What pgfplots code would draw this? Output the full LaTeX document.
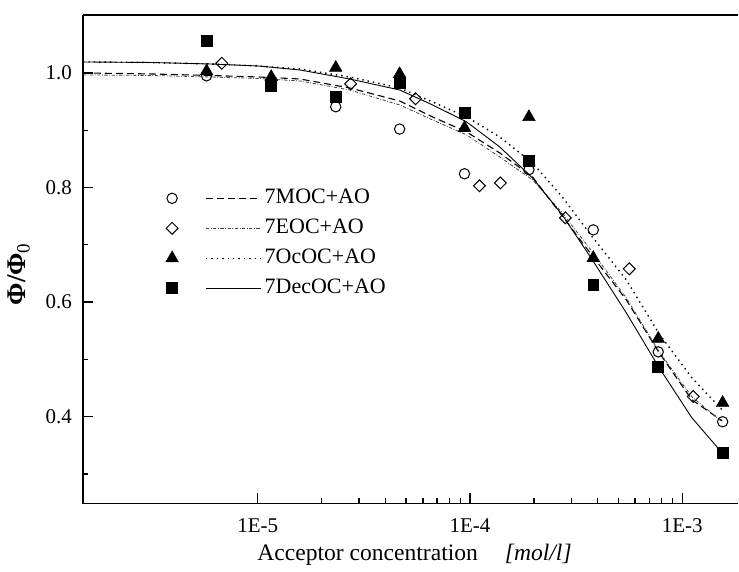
\documentclass[border=0pt]{standalone}
\usepackage{fontspec}
\setmainfont{Liberation Serif}
\usepackage{pgfplots}
\pgfplotsset{compat=1.18}

% measured data points
\newcommand{\dMOC}{(5.74e-6,0.995)(2.33e-5,0.941)(4.66e-5,0.902)(9.42e-5,0.824)(1.895e-4,0.831)(3.81e-4,0.726)(7.71e-4,0.513)(1.55e-3,0.391)}
\newcommand{\dEOC}{(6.77e-6,1.017)(2.74e-5,0.981)(5.54e-5,0.955)(1.108e-4,0.803)(1.391e-4,0.808)(2.815e-4,0.747)(5.63e-4,0.658)(1.127e-3,0.435)}
\newcommand{\dOcOC}{(5.74e-6,1.003)(1.157e-5,0.993)(2.33e-5,1.009)(4.66e-5,0.998)(9.42e-5,0.904)(1.895e-4,0.923)(3.81e-4,0.677)(7.71e-4,0.536)(1.55e-3,0.424)}
\newcommand{\dDecOC}{(5.74e-6,1.056)(1.157e-5,0.977)(2.33e-5,0.958)(4.66e-5,0.983)(9.42e-5,0.930)(1.895e-4,0.846)(3.81e-4,0.630)(7.71e-4,0.487)(1.55e-3,0.337)}

\tikzset{
  mMOC/.style={mark=o,mark size=2.6bp,mark options={solid,line width=0.5bp,fill=white}},
  mEOC/.style={mark=square,mark size=2.1bp,mark options={solid,rotate=45,line width=0.5bp,fill=white}},
  mOcOC/.style={mark=triangle*,mark size=3.6bp,mark options={solid,line width=0.3bp}},
  mDecOC/.style={mark=square*,mark size=2.75bp,mark options={solid,line width=0.3bp}},
  cMOC/.style={black,line width=0.55bp,dash pattern=on 3.5bp off 2bp},
  cEOC/.style={black!75,line width=0.4bp,dash pattern=on 1.6bp off 0.8bp on 0.4bp off 0.8bp},
  cOcOC/.style={black,line width=0.7bp,dash pattern=on 0.7bp off 2bp},
  cDecOC/.style={black,line width=0.45bp,solid},
}
\newcommand{\legimg}[2]{%
  \draw[black,#1] plot coordinates {(0bp,0bp)};%
  \draw[#2] (17bp,0bp) -- (44.5bp,0bp);%
}

\begin{document}
\begin{tikzpicture}[font=\fontsize{10.5bp}{12.6bp}\selectfont]
\begin{axis}[
  name=ax,
  scale only axis,
  width=328bp, height=244.5bp,
  xmode=log,
  xmin=1.5e-6, xmax=1.837e-3,
  ymin=0.2482, ymax=1.1012,
  axis x line*=box, axis y line*=left,
  axis line style={line width=0.7bp},
  every tick/.style={black,line width=0.7bp},
  xtick pos=left, ytick pos=left,
  tick align=inside,
  major tick length=5.3bp, minor tick length=2.8bp,
  xtick={1e-5,1e-4,1e-3}, xticklabels={1E-5,1E-4,1E-3},
  ytick={0.4,0.6,0.8,1.0}, minor ytick={0.3,0.5,0.7,0.9},
  yticklabel style={/pgf/number format/fixed,/pgf/number format/precision=1,/pgf/number format/fixed zerofill,xshift=-2bp},
  /pgf/number format/assume math mode=true,
  xticklabel style={yshift=-4bp},
  xlabel={Acceptor concentration\hspace{13.5bp}\textit{[mol/l]}},
  xlabel style={at={(axis description cs:0.506,-0.1047)},anchor=center,font=\fontsize{11.8bp}{14bp}\selectfont},
  ylabel={\bfseries Φ/Φ\textsubscript{\normalfont 0}},
  ylabel style={at={(axis description cs:-0.098,0.47)},anchor=center,font=\fontsize{13.5bp}{16bp}\selectfont},
  clip=true,
  legend style={draw=none,fill=none,inner sep=0pt,at={(axis description cs:0.126,0.646)},anchor=north west,
    row sep=5bp, font=\fontsize{11bp}{13bp}\selectfont,
    nodes={inner sep=0pt,text height=7.5bp,text depth=2.5bp},
    /tikz/every odd column/.append style={column sep=1.5bp}},
  legend cell align=left,
]
% markers
\addplot[only marks,mMOC,forget plot] coordinates {\dMOC};
\addplot[only marks,mEOC,forget plot] coordinates {\dEOC};
\addplot[only marks,mOcOC,forget plot] coordinates {\dOcOC};
\addplot[only marks,mDecOC,forget plot] coordinates {\dDecOC};

% fitted curves
\addplot[no marks,cMOC,legend image code/.code={\legimg{mMOC}{cMOC}}]
  coordinates {(1.5e-6,1.000)(3.10e-6,0.9983)(5.94e-6,0.9956)(1e-5,0.9930)(1.58e-5,0.9895)(2.71e-5,0.9738)
  (4.66e-5,0.9511)(6.66e-5,0.9232)(9.64e-5,0.8970)(1.38e-4,0.8604)(1.97e-4,0.8185)(2.72e-4,0.7504)
  (3.77e-4,0.6806)(5.45e-4,0.6038)(7.79e-4,0.5113)(1.11e-3,0.4293)(1.54e-3,0.3927)};
\addlegendentry{7MOC+AO}
\addplot[no marks,cEOC,legend image code/.code={\legimg{mEOC}{cEOC}}]
  coordinates {(1.5e-6,0.9965)(3.10e-6,0.9956)(5.94e-6,0.9930)(1e-5,0.9904)(1.58e-5,0.9860)(2.71e-5,0.9703)
  (4.66e-5,0.9442)(6.66e-5,0.9180)(9.64e-5,0.8918)(1.38e-4,0.8534)(1.97e-4,0.8133)(2.72e-4,0.7557)
  (3.77e-4,0.6876)(5.45e-4,0.6073)(7.79e-4,0.5131)(1.11e-3,0.4346)(1.54e-3,0.3909)};
\addlegendentry{7EOC+AO}
\addplot[no marks,cOcOC,legend image code/.code={\legimg{mOcOC}{cOcOC}}]
  coordinates {(1.5e-6,1.0192)(3.10e-6,1.0183)(5.94e-6,1.0157)(1e-5,1.0122)(1.58e-5,1.0070)(2.71e-5,0.9930)
  (4.66e-5,0.9738)(6.66e-5,0.9494)(9.64e-5,0.9232)(1.38e-4,0.8883)(1.97e-4,0.8429)(2.72e-4,0.7836)
  (3.77e-4,0.7138)(5.45e-4,0.6387)(7.79e-4,0.5445)(1.11e-3,0.4677)(1.54e-3,0.4119)};
\addlegendentry{7OcOC+AO}
\addplot[no marks,cDecOC,legend image code/.code={\legimg{mDecOC}{cDecOC}}]
  coordinates {(1.5e-6,1.0192)(3.10e-6,1.0183)(5.94e-6,1.0157)(1e-5,1.0122)(1.58e-5,1.0052)(2.71e-5,0.9895)
  (4.66e-5,0.9703)(6.66e-5,0.9442)(9.64e-5,0.9145)(1.38e-4,0.8709)(1.97e-4,0.8168)(2.72e-4,0.7522)
  (3.77e-4,0.6737)(5.45e-4,0.5812)(7.79e-4,0.4852)(1.11e-3,0.3979)(1.54e-3,0.3368)};
\addlegendentry{7DecOC+AO}
\end{axis}
\useasboundingbox ([xshift=-41.5bp,yshift=-32bp]ax.south west) rectangle ([yshift=7.5bp]ax.north east);
\end{tikzpicture}
\end{document}
